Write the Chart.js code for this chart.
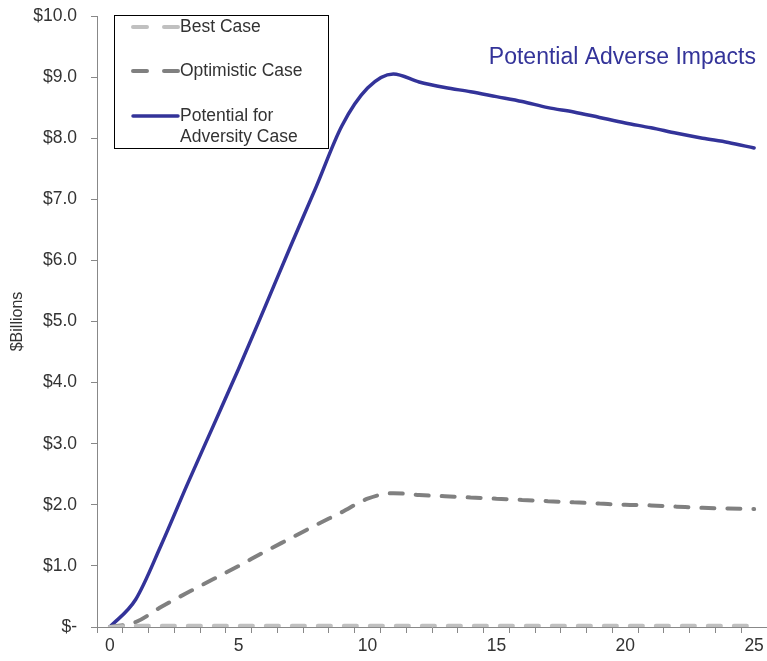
<!DOCTYPE html>
<html>
<head>
<meta charset="utf-8">
<script src="https://cdn.jsdelivr.net/npm/chart.js@4/dist/chart.umd.min.js"></script>
<style>
  html, body { margin: 0; padding: 0; background: #fff; }
  #wrap { width: 767px; height: 661px; }
</style>
</head>
<body>
<div id="wrap"><canvas id="chart"></canvas></div>
<script>
'use strict';

var years = ['0', '1', '2', '3', '4', '5', '6', '7', '8', '9', '10', '11', '12',
  '13', '14', '15', '16', '17', '18', '19', '20', '21', '22', '23', '24', '25'];

var bestCase = [0, 0.02, 0.02, 0.02, 0.02, 0.02, 0.02, 0.02, 0.02, 0.02, 0.02, 0.02, 0.02,
  0.02, 0.02, 0.02, 0.02, 0.02, 0.02, 0.02, 0.02, 0.02, 0.02, 0.02, 0.02, 0.02];

var optimisticCase = [0, 0.08, 0.33, 0.56, 0.78, 1.0, 1.23, 1.45, 1.67, 1.88, 2.1, 2.19, 2.16,
  2.14, 2.12, 2.1, 2.08, 2.06, 2.04, 2.02, 2.0, 1.99, 1.97, 1.95, 1.94, 1.93];

var adversityCase = [0, 0.45, 1.35, 2.33, 3.28, 4.23, 5.22, 6.22, 7.2, 8.2, 8.82, 9.05, 8.92,
  8.83, 8.76, 8.68, 8.6, 8.5, 8.43, 8.34, 8.25, 8.17, 8.08, 8.0, 7.93, 7.84];

var yTicks = [0, 1, 2, 3, 4, 5, 6, 7, 8, 9, 10];

var chartTitle = 'Potential Adverse Impacts';

var blue = '#333399';

Chart.defaults.font.family = 'Arial, "Liberation Sans", sans-serif';
Chart.defaults.color = '#000';

// draws the boxed legend and the title inside the plot
var boxLegend = {
  id: 'boxLegend',
  afterDraw: function(chart) {
    var c = chart.ctx;
    var sets = chart.data.datasets;
    var rows = [27, 71, 116];
    c.save();
    c.strokeStyle = '#000';
    c.lineWidth = 1;
    c.strokeRect(114.5, 15.5, 214, 133);
    c.font = '17.5px Arial, "Liberation Sans", sans-serif';
    c.textBaseline = 'middle';
    for (var i = 0; i < sets.length; i++) {
      var ds = sets[i];
      c.beginPath();
      c.strokeStyle = ds.borderColor;
      c.lineWidth = ds.borderWidth;
      c.lineCap = ds.borderCapStyle || 'butt';
      c.setLineDash(ds.borderDash ? [14, 17] : []);
      c.moveTo(133, rows[i]);
      c.lineTo(178, rows[i]);
      c.stroke();
      c.setLineDash([]);
      c.fillStyle = '#333';
      var lines = ds.label.split('\n');
      for (var j = 0; j < lines.length; j++) {
        c.fillText(lines[j], 180, rows[i] + j * 21);
      }
    }
    c.font = '23px Arial, "Liberation Sans", sans-serif';
    c.fillStyle = blue;
    c.textAlign = 'right';
    c.fillText(chartTitle, 756, 58);
    c.restore();
  }
};

var ctx = document.getElementById('chart').getContext('2d');

var chart = new Chart(ctx, {
  type: 'line',
  data: {
    labels: years,
    datasets: [
      {
        label: 'Best Case',
        data: bestCase,
        borderColor: '#c0c0c0',
        borderWidth: 4,
        borderDash: [13, 13],
        borderCapStyle: 'round',
        pointRadius: 0,
        cubicInterpolationMode: 'monotone'
      },
      {
        label: 'Optimistic Case',
        data: optimisticCase,
        borderColor: '#808080',
        borderWidth: 4,
        borderDash: [13, 13],
        borderCapStyle: 'round',
        pointRadius: 0,
        cubicInterpolationMode: 'monotone'
      },
      {
        label: 'Potential for\nAdversity Case',
        data: adversityCase,
        borderColor: blue,
        borderWidth: 3.5,
        borderCapStyle: 'round',
        pointRadius: 0,
        cubicInterpolationMode: 'monotone'
      }
    ]
  },
  options: {
    responsive: true,
    maintainAspectRatio: false,
    animation: false,
    layout: { padding: { top: 16, right: 0, left: 0, bottom: 0 } },
    plugins: {
      legend: { display: false },
      tooltip: { enabled: false }
    },
    scales: {
      x: {
        type: 'category',
        offset: true,
        border: { color: '#888', width: 1 },
        grid: { offset: true, drawOnChartArea: false, drawTicks: true, tickLength: 6, color: '#888' },
        ticks: {
          autoSkip: false,
          maxRotation: 0,
          padding: 3,
          font: { size: 17.5 },
          color: '#333',
          callback: function(val, i) { return i % 5 === 0 ? years[i] : ''; }
        },
        afterFit: function(scale) {
          scale.height = 34;
          scale.paddingLeft = 0;
          scale.paddingRight = 0;
        }
      },
      y: {
        min: 0,
        max: 10,
        border: { color: '#888', width: 1 },
        grid: { drawOnChartArea: false, drawTicks: true, tickLength: 6, color: '#888' },
        afterBuildTicks: function(scale) {
          scale.ticks = yTicks.map(function(v) { return { value: v }; });
        },
        ticks: {
          padding: 14,
          font: { size: 17.5 },
          color: '#333',
          callback: function(v) { return v === 0 ? '$-' : '$' + v.toFixed(1); }
        },
        title: {
          display: true,
          text: '$Billions',
          font: { size: 16 },
          color: '#333',
          padding: { top: 8, bottom: 4 }
        },
        afterFit: function(scale) {
          scale.width = 97;
          scale.paddingTop = 0;
          scale.paddingBottom = 0;
        }
      }
    }
  },
  plugins: [boxLegend]
});
</script>
</body>
</html>
